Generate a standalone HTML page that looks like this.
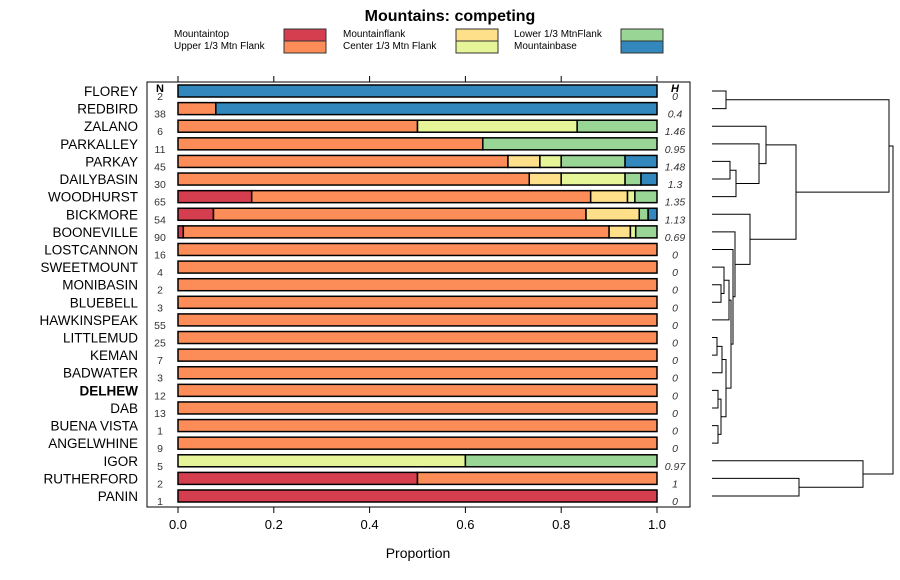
<!DOCTYPE html>
<html><head><meta charset="utf-8"><style>
html,body{margin:0;padding:0;background:#fff;}
svg{display:block;font-family:"Liberation Sans",sans-serif;}
</style></head><body>
<svg id="chart" width="900" height="580">
<text x="450" y="21" text-anchor="middle" font-size="16" font-weight="bold">Mountains: competing</text>
<g id="legend"></g>
<rect x="147" y="82" width="543" height="425" fill="none" stroke="#000"/>
<g id="axis"></g>
<text x="418" y="558" text-anchor="middle" font-size="14">Proportion</text>
<text x="160" y="92" text-anchor="middle" font-size="11" font-weight="bold">N</text>
<text x="675" y="92" text-anchor="middle" font-size="11" font-weight="bold" font-style="italic">H</text>
<g id="bars"></g>
<g id="dendro" fill="none" stroke="#000" stroke-width="1"></g>
</svg>
<script>
const categories=["FLOREY","REDBIRD","ZALANO","PARKALLEY","PARKAY","DAILYBASIN","WOODHURST","BICKMORE","BOONEVILLE","LOSTCANNON","SWEETMOUNT","MONIBASIN","BLUEBELL","HAWKINSPEAK","LITTLEMUD","KEMAN","BADWATER","DELHEW","DAB","BUENA VISTA","ANGELWHINE","IGOR","RUTHERFORD","PANIN"];
const nValues=[2,38,6,11,45,30,65,54,90,16,4,2,3,55,25,7,3,12,13,1,9,5,2,1];
const hValues=["0","0.4","1.46","0.95","1.48","1.3","1.35","1.13","0.69","0","0","0","0","0","0","0","0","0","0","0","0","0.97","1","0"];
const seriesNames=["Mountaintop","Upper 1/3 Mtn Flank","Mountainflank","Center 1/3 Mtn Flank","Lower 1/3 MtnFlank","Mountainbase"];
const seriesColors=["#d53e4f","#fc8d59","#fee08b","#e6f598","#99d594","#3288bd"];
const mountaintop=[0,0,0,0,0,0,10,4,1,0,0,0,0,0,0,0,0,0,0,0,0,0,1,1];
const upperFlank=[0,3,3,7,31,22,46,42,80,16,4,2,3,55,25,7,3,12,13,1,9,0,1,0];
const mountainflank=[0,0,0,0,3,2,5,6,4,0,0,0,0,0,0,0,0,0,0,0,0,0,0,0];
const centerFlank=[0,0,2,0,2,4,1,0,1,0,0,0,0,0,0,0,0,0,0,0,0,3,0,0];
const lowerFlank=[0,0,1,4,6,1,3,1,4,0,0,0,0,0,0,0,0,0,0,0,0,2,0,0];
const mountainbase=[2,35,0,0,3,1,0,1,0,0,0,0,0,0,0,0,0,0,0,0,0,0,0,0];
const ticks=[0,0.2,0.4,0.6,0.8,1.0];
const series=[mountaintop,upperFlank,mountainflank,centerFlank,lowerFlank,mountainbase];
const NS="http://www.w3.org/2000/svg";
const xs=v=>178+v*479;
const ys=i=>91+i*(405/23);
function mk(tag,attrs,parent){const e=document.createElementNS(NS,tag);for(const k in attrs)e.setAttribute(k,attrs[k]);parent.appendChild(e);return e;}
// legend
const lg=document.getElementById('legend');
const cols=[[174,284],[343,456],[514,621]];
seriesNames.forEach((n,i)=>{const c=cols[Math.floor(i/2)],r=i%2;
 const t=mk('text',{x:c[0],y:37+r*12,'font-size':'10'},lg);t.textContent=n;
 
 
 const rc=mk('rect',{x:c[1],y:29+r*12,width:42,height:12,fill:seriesColors[i],stroke:'#333'},lg);
 
 
});
// axis
const ax=document.getElementById('axis');
ticks.forEach(t=>{
 mk('line',{x1:xs(t),x2:xs(t),y1:507,y2:513,stroke:'#000'},ax);
 mk('line',{x1:xs(t),x2:xs(t),y1:76,y2:82,stroke:'#000'},ax);
 const tx=mk('text',{x:xs(t),y:529,'text-anchor':'middle','font-size':'13'},ax);tx.textContent=t.toFixed(1);
 
 
});
// bars
const bg=document.getElementById('bars');
categories.forEach((c,i)=>{
 const cy=ys(i);
 const lab=mk('text',{x:138,y:cy+5,'text-anchor':'end','font-size':'13.5','font-weight':c==='DELHEW'?'bold':'normal'},bg);lab.textContent=c;
 
 
 const nt=mk('text',{x:160,y:cy+9,'text-anchor':'middle','font-size':'10.5',fill:'#333'},bg);nt.textContent=nValues[i];
 
 
 const ht=mk('text',{x:675,y:cy+9,'text-anchor':'middle','font-size':'10.5','font-style':'italic',fill:'#333'},bg);ht.textContent=hValues[i];
 
 
 const tot=series.reduce((a,s)=>a+s[i],0);let acc=0;
 series.forEach((s,k)=>{if(!s[i])return;const w=s[i]/tot;
  const r=mk('rect',{x:xs(acc),y:cy-6,width:xs(acc+w)-xs(acc),height:12,fill:seriesColors[k],stroke:'#000','stroke-width':'1.5'},bg);
  
  
  acc+=w;});
});
// dendrogram
const dg=document.getElementById('dendro');
const L=712;
function node(xn,a,b){mk('path',{d:`M${a[0]},${a[1]}H${xn}V${b[1]}H${b[0]}`},dg);return [xn,(a[1]+b[1])/2];}
const leaf=i=>[L,ys(i)];
const n01=node(726,leaf(0),leaf(1));
const n45=node(730,leaf(4),leaf(5));
const n456=node(736,n45,leaf(6));
const n3=node(759,leaf(3),n456);
const n2=node(766,leaf(2),n3);
const m12=node(721,leaf(11),leaf(12));
const m10=node(724,leaf(10),m12);
const m13=node(729,m10,leaf(13));
const k1415=node(717,leaf(14),leaf(15));
const k16=node(722,k1415,leaf(16));
const d1718=node(718,leaf(17),leaf(18));
const d1920=node(718,leaf(19),leaf(20));
const d4=node(721,d1718,d1920);
const kd=node(726,k16,d4);
const mk2=node(731,m13,kd);
const lc=node(733,leaf(9),mk2);
const bo=node(735,leaf(8),lc);
const bi=node(750,leaf(7),bo);
const midNode=node(796,n2,bi);
const rootTop=node(889,n01,midNode);
const rp=node(799,leaf(22),leaf(23));
const ig=node(863,leaf(21),rp);
node(893,rootTop,ig);
</script>
</body></html>
